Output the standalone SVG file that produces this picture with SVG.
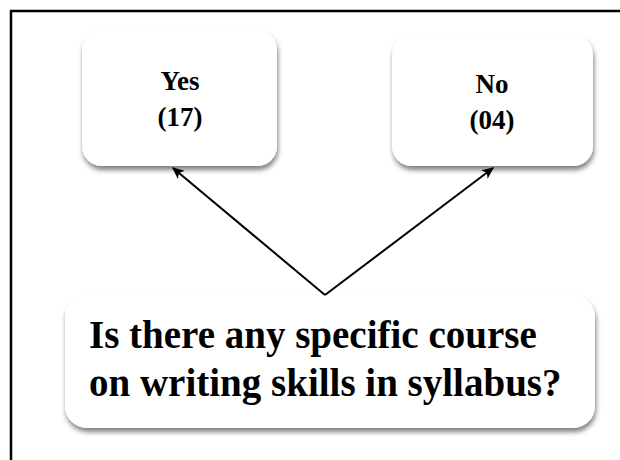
<svg xmlns="http://www.w3.org/2000/svg" width="620" height="460" viewBox="0 0 620 460">
<defs>
<filter id="sh" x="-10%" y="-10%" width="120%" height="130%">
<feDropShadow dx="1" dy="4" stdDeviation="2.5" flood-color="#000" flood-opacity="0.5"/>
</filter>
<marker id="ah" viewBox="0 0 10 10" refX="9" refY="5" markerWidth="12" markerHeight="12" markerUnits="userSpaceOnUse" orient="auto">
<path d="M0,0.5 L10,5 L0,9.5 L2.5,5 Z" fill="#000"/>
</marker>
<style>
.box{fill:#fff;filter:url(#sh)}
.t{font-family:"Liberation Serif","Times New Roman",serif;font-weight:bold;fill:#000}
.s{font-size:27px;text-anchor:middle}
.b{font-size:39px}
.c{stroke:#000;stroke-width:2;fill:none;marker-end:url(#ah)}
</style>
</defs>
<rect width="620" height="460" fill="#fff"/>
<path d="M11,462 L11,11 L622,11" fill="none" stroke="#000" stroke-width="2.5"/>
<g id="yes">
<rect class="box" x="82" y="30" width="195" height="136" rx="20"/>
<text class="t s" x="180" y="90">Yes</text>
<text class="t s" x="180" y="126">(17)</text>
</g>
<g id="no">
<rect class="box" x="392" y="35" width="201" height="131" rx="20"/>
<text class="t s" x="492" y="93">No</text>
<text class="t s" x="492" y="129">(04)</text>
</g>
<g id="question">
<rect class="box" x="65" y="295" width="530" height="133" rx="22"/>
<text class="t b" x="89" y="348">Is there any specific course</text>
<text class="t b" x="89" y="396">on writing skills in syllabus?</text>
</g>
<g id="connectors">
<line class="c" x1="325" y1="295" x2="173" y2="168"/>
<line class="c" x1="325" y1="295" x2="493" y2="168"/>
</g>
</svg>
